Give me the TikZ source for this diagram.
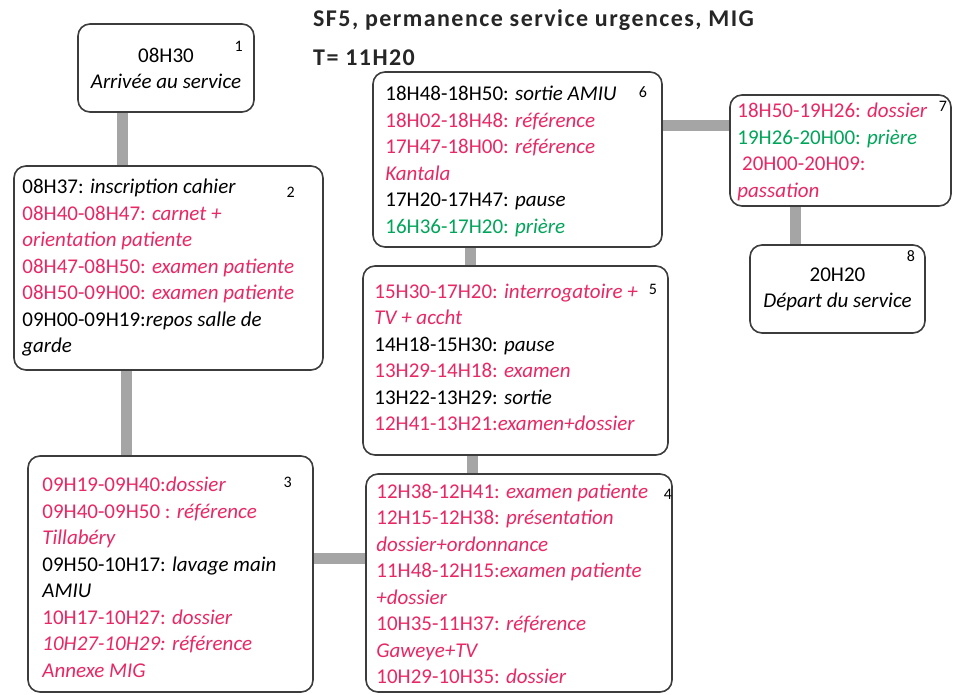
\documentclass[tikz,border=0pt]{standalone}
\usepackage{fontspec}
\setmainfont{Carlito}
\usetikzlibrary{backgrounds,calc}
\definecolor{pk}{RGB}{232,40,100}
\definecolor{gr}{RGB}{0,165,90}
\definecolor{conncol}{RGB}{165,165,165}
\definecolor{bord}{RGB}{60,60,60}
\newcommand\pkl[1]{\textcolor{pk}{#1}}
\newcommand\grl[1]{\textcolor{gr}{#1}}
\newfontfamily\ttlfont[LetterSpace=6]{Carlito}
\begin{document}
\begin{tikzpicture}[x=1pt,y=-1pt,
  box/.style={draw=bord, line width=1.6pt, rounded corners=12pt, fill=white, inner sep=0pt},
  txt/.style={align=left, inner sep=0pt, anchor=west, font=\fontsize{21}{26.5}\selectfont},
  ctxt/.style={align=center, inner sep=0pt, font=\fontsize{21}{26}\selectfont},
  num/.style={inner sep=0pt, font=\fontsize{16}{16}\selectfont},
  conn/.style={draw=conncol, line width=11pt},
  ttl/.style={anchor=west, inner sep=0pt, font=\ttlfont\bfseries\fontsize{24}{28}\selectfont, text=black!85}
]
\useasboundingbox (0,0) rectangle (958,695);

% title
\node[ttl] (title) at (313,20) {SF5, permanence service urgences, MIG};
\node[ttl] (tval) at (313,58) {T= 11H20};

% boxes
\node[box, minimum width=176pt, minimum height=88pt] (b1) at (166,68) {};
\node[box, minimum width=309pt, minimum height=204pt] (b2) at (168.5,268) {};
\node[box, minimum width=285pt, minimum height=236pt] (b3) at (170.5,574) {};
\node[box, minimum width=306pt, minimum height=218pt] (b4) at (519,583) {};
\node[box, minimum width=305pt, minimum height=189pt] (b5) at (515.5,360.5) {};
\node[box, minimum width=289pt, minimum height=175pt] (b6) at (517.5,159.5) {};
\node[box, minimum width=221pt, minimum height=111pt] (b7) at (840.5,150.5) {};
\node[box, minimum width=175pt, minimum height=88pt] (b8) at (837.5,289) {};

% texts
\node[ctxt] (t1) at ($(b1.center)+(0,0.5)$) {08H30\\\textit{Arrivée au service}};
\node[txt] (t2) at ($(b2.west)+(9,0)$) {08H37: \textit{inscription cahier}\\
\pkl{08H40-08H47: \textit{carnet +}}\\
\pkl{\textit{orientation patiente}}\\
\pkl{08H47-08H50: \textit{examen patiente}}\\
\pkl{08H50-09H00: \textit{examen patiente}}\\
09H00-09H19:\textit{repos salle de}\\
\textit{garde}};
\node[txt] (t3) at ($(b3.west)+(15,3.5)$) {\pkl{09H19-09H40:\textit{dossier}}\\
\pkl{09H40-09H50 : \textit{référence}}\\
\pkl{\textit{Tillabéry}}\\
09H50-10H17: \textit{lavage main}\\
\textit{AMIU}\\
\pkl{10H17-10H27: \textit{dossier}}\\
\pkl{\textit{10H27-10H29: référence}}\\
\pkl{\textit{Annexe MIG}}};
\node[txt] (t4) at ($(b4.west)+(11,1)$) {\pkl{12H38-12H41: \textit{examen patiente}}\\
\pkl{12H15-12H38: \textit{présentation}}\\
\pkl{\textit{dossier+ordonnance}}\\
\pkl{11H48-12H15:\textit{examen patiente}}\\
\pkl{\textit{+dossier}}\\
\pkl{10H35-11H37: \textit{référence}}\\
\pkl{\textit{Gaweye+TV}}\\
\pkl{10H29-10H35: \textit{dossier}}};
\node[txt] (t5) at ($(b5.west)+(12,-3)$) {\pkl{15H30-17H20: \textit{interrogatoire +}}\\
\pkl{\textit{TV + accht}}\\
14H18-15H30: \textit{pause}\\
\pkl{13H29-14H18: \textit{examen}}\\
13H22-13H29: \textit{sortie}\\
\pkl{12H41-13H21:\textit{examen+dossier}}};
\node[txt] (t6) at ($(b6.west)+(13,2)$) {18H48-18H50: \textit{sortie AMIU}\\
\pkl{18H02-18H48: \textit{référence}}\\
\pkl{17H47-18H00: \textit{référence}}\\
\pkl{\textit{Kantala}}\\
17H20-17H47: \textit{pause}\\
\grl{16H36-17H20: \textit{prière}}};
\node[txt] (t7) at ($(b7.west)+(8,1.5)$) {\pkl{18H50-19H26: \textit{dossier}}\\
\grl{19H26-20H00: \textit{prière}}\\
\pkl{\ 20H00-20H09:}\\
\pkl{\textit{passation}}};
\node[ctxt] (t8) at ($(b8.center)+(0,0.5)$) {20H20\\\textit{Départ du service}};

% numbers
\node[num] (n1) at ($(b1.north east)+(-16,23)$) {1};
\node[num] (n2) at ($(b2.north east)+(-33,27)$) {2};
\node[num] (n3) at ($(b3.north east)+(-26,27)$) {3};
\node[num] (n4) at ($(b4.north east)+(-5,21)$) {4};
\node[num] (n5) at ($(b5.north east)+(-16,24)$) {5};
\node[num] (n6) at ($(b6.north east)+(-20,21)$) {6};
\node[num] (n7) at ($(b7.north east)+(-9,12)$) {7};
\node[num] (n8) at ($(b8.north east)+(-15,12)$) {8};

% connectors
\coordinate (p12) at ($(b1.south)+(-44,0)$);
\coordinate (p23) at ($(b2.south)+(-42.5,0)$);
\coordinate (p34) at ($(b3.east)+(0,-16)$);
\coordinate (p54) at ($(b5.south)+(-43.5,0)$);
\coordinate (p65) at ($(b6.south)+(-47.5,0)$);
\coordinate (p67) at ($(b6.east)+(0,-33.5)$);
\coordinate (p78) at ($(b7.south)+(-45.5,0)$);
\begin{scope}[on background layer]
\draw[conn] (p12) -- (p12 |- b2.north);
\draw[conn] (p23) -- (p23 |- b3.north);
\draw[conn] (p34) -- (p34 -| b4.west);
\draw[conn] (p54) -- (p54 |- b4.north);
\draw[conn] (p65) -- (p65 |- b5.north);
\draw[conn] (p67) -- (p67 -| b7.west);
\draw[conn] (p78) -- (p78 |- b8.north);
\end{scope}
\end{tikzpicture}
\end{document}
